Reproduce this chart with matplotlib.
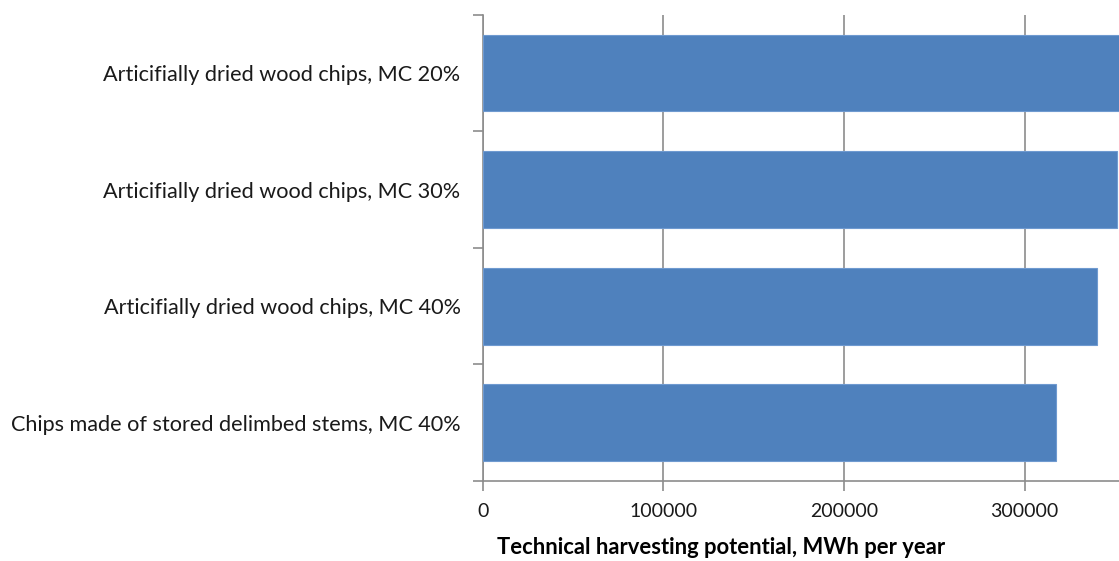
import matplotlib

matplotlib.use("Agg")

import matplotlib.pyplot as plt
import numpy as np

categories = [
    "Articifially dried wood chips, MC 20%",
    "Articifially dried wood chips, MC 30%",
    "Articifially dried wood chips, MC 40%",
    "Chips made of stored delimbed stems, MC 40%",
]
potential_mwh = [356000, 351300, 340200, 317300]
x_ticks = [0, 100000, 200000, 300000]

_BAR = "#4F81BD"
_GRID = "#8C8C8C"

plt.rcParams["font.family"] = ["Lato", "DejaVu Sans"]

fig = plt.figure(figsize=(11.19, 5.61), dpi=100)
ax = fig.add_axes([0.4314, 0.1426, 0.5686, 0.8312])

y = np.arange(len(categories))
ax.barh(y, potential_mwh, height=0.66, color=_BAR, edgecolor="#6F9AD0", linewidth=0.8, zorder=3)

ax.set_ylim(len(categories) - 0.5, -0.5)
ax.set_xlim(0, 352200)

# category boundaries get the tick marks, names sit between them
ax.set_yticks(np.arange(len(categories) + 1) - 0.5)
ax.set_yticklabels([])
ax.set_yticks(y, minor=True)
ax.set_yticklabels(categories, minor=True, fontsize=15.6, color="#1a1a1a")
ax.tick_params(axis="y", which="major", length=7, width=1.2, color=_GRID, direction="out")
ax.tick_params(axis="y", which="minor", length=0, pad=16)

ax.set_xticks(x_ticks)
ax.set_xticklabels([str(v) for v in x_ticks], fontsize=14, color="#1a1a1a")
ax.tick_params(axis="x", length=7, width=1.2, color=_GRID, direction="out", pad=9)

ax.grid(axis="x", color=_GRID, lw=1.2, zorder=0)
for side in ("top", "right"):
    ax.spines[side].set_visible(False)
for side in ("left", "bottom"):
    ax.spines[side].set_color(_GRID)
    ax.spines[side].set_linewidth(1.2)

ax.set_xlabel("Technical harvesting potential, MWh per year", fontsize=15.8, fontweight="bold")
ax.xaxis.set_label_coords(0.3745, -0.12)

fig.savefig("out.png", dpi=100)
